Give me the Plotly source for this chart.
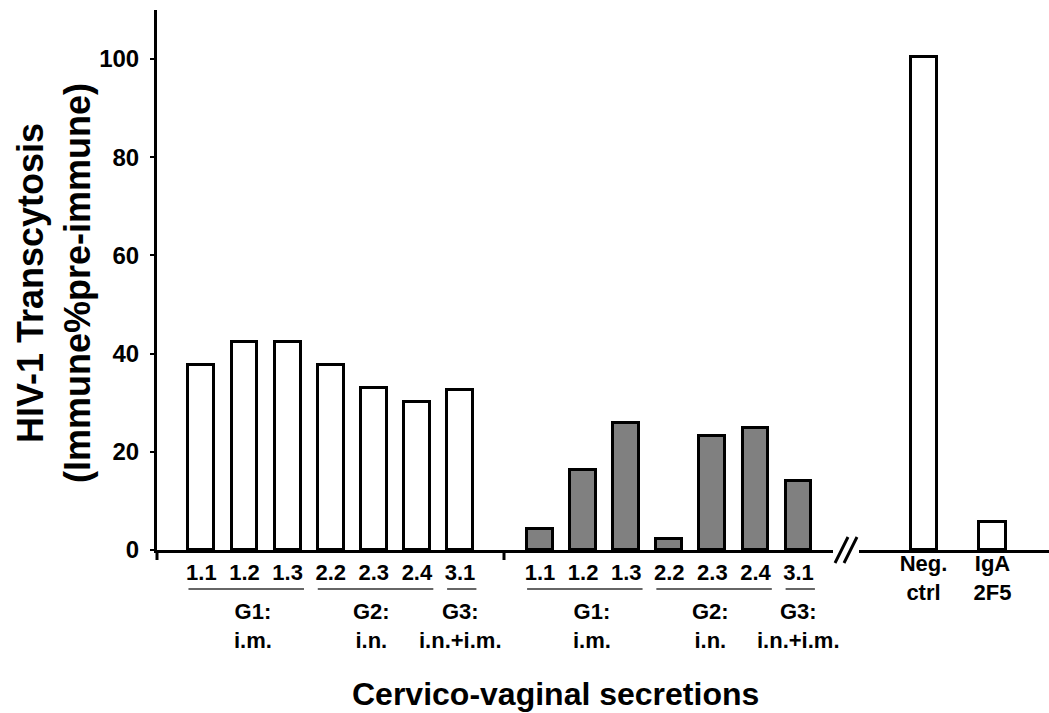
import plotly.graph_objects as go

# ---- data ----
sample_labels = ["1.1", "1.2", "1.3", "2.2", "2.3", "2.4", "3.1"]
pre_values = [37.7, 42.3, 42.3, 37.7, 33.1, 30.1, 32.6]      # white bars
post_values = [4.3, 16.3, 25.8, 2.3, 23.3, 24.8, 14.1]       # gray bars
control_labels = ["Neg.<br>ctrl", "IgA<br>2F5"]
control_values = [100.5, 5.8]
group_labels = ["G1:<br>i.m.", "G2:<br>i.n.", "G3:<br>i.n.+i.m."]
group_members = [[0, 1, 2], [3, 4, 5], [6]]
group_label_pos = [1.2, 3.95, 6.0]
y_ticks = [0, 20, 40, 60, 80, 100]

FONT = "Liberation Sans, Arial, sans-serif"
W, H = 1049, 713
L, R, T, B = 157, 0, 10, 163
PW = W - L - R
PH = H - T - B

def px(x):
    return (x - L) / PW

def py(y):
    return (550 - y) / PH

fig = go.Figure()

fig.add_trace(go.Bar(x=sample_labels, y=pre_values, xaxis="x", yaxis="y",
                     marker=dict(color="white", line=dict(color="black", width=3)),
                     width=0.6, showlegend=False))
fig.add_trace(go.Bar(x=sample_labels, y=post_values, xaxis="x2", yaxis="y",
                     marker=dict(color="#808080", line=dict(color="black", width=3)),
                     width=0.6, showlegend=False))
fig.add_trace(go.Bar(x=control_labels, y=control_values, xaxis="x3", yaxis="y",
                     marker=dict(color="white", line=dict(color="black", width=3)),
                     width=0.377, showlegend=False))

tickfont = dict(family=FONT, size=22, color="black", weight="bold")
common_x = dict(type="category", showline=True, linecolor="black", linewidth=3,
                ticks="", showgrid=False, zeroline=False, tickfont=tickfont,
                anchor="y", fixedrange=True)

fig.update_layout(
    width=W, height=H,
    margin=dict(l=L, r=R, t=T, b=B),
    plot_bgcolor="white", paper_bgcolor="white",
    bargap=0,
    xaxis=dict(domain=[0, px(504)], range=[-1.03, 7.02], ticklabelstandoff=1, **common_x),
    xaxis2=dict(domain=[px(504), px(833)], range=[-0.836, 6.80], ticklabelstandoff=1, **common_x),
    xaxis3=dict(domain=[px(859), 1.0], range=[-0.935, 1.819], ticklabelstandoff=-8, **common_x),
    yaxis=dict(range=[0, 110], tickvals=y_ticks, showline=True, linecolor="black",
               linewidth=3, ticks="outside", ticklen=4, tickwidth=2, tickcolor="black",
               showgrid=False, zeroline=False, ticklabelstandoff=6,
               tickfont=dict(family=FONT, size=24, color="black", weight="bold")),
)

shapes = []
# axis ticks below baseline
for xv in [0, 1]:
    shapes.append(dict(type="line", xref="x domain", yref="paper", x0=xv, x1=xv,
                       y0=0, y1=-10 / PH, line=dict(color="black", width=3)))
# break marks //
for dx in [0, 9]:
    shapes.append(dict(type="line", xref="paper", yref="paper",
                       x0=px(835 + dx), x1=px(848 + dx),
                       y0=py(563), y1=py(537),
                       line=dict(color="black", width=3)))

annotations = []
for xa in ["x", "x2"]:
    for members, glabel, gpos in zip(group_members, group_labels, group_label_pos):
        shapes.append(dict(type="line", xref=xa, yref="paper",
                           x0=members[0] - 0.3, x1=members[-1] + 0.38,
                           y0=py(589), y1=py(589), line=dict(color="#333333", width=1.5)))
        annotations.append(dict(xref=xa, yref="paper", x=gpos, y=py(597),
                                text=glabel, showarrow=False, xanchor="center", yanchor="top",
                                font=dict(family=FONT, size=22, color="black", weight="bold")))

annotations.append(dict(xref="paper", yref="paper", x=px(555), y=py(694),
                        text="Cervico-vaginal secretions", showarrow=False,
                        xanchor="center", yanchor="middle",
                        font=dict(family=FONT, size=32, color="black", weight="bold")))
annotations.append(dict(xref="paper", yref="paper", x=px(54), y=py(283),
                        text="HIV-1 Transcytosis<br>(Immune%pre-immune)", showarrow=False,
                        textangle=-90, xanchor="center", yanchor="middle",
                        font=dict(family=FONT, size=36, color="black", weight="bold")))

fig.update_layout(shapes=shapes, annotations=annotations)
fig.write_html("out.html")
